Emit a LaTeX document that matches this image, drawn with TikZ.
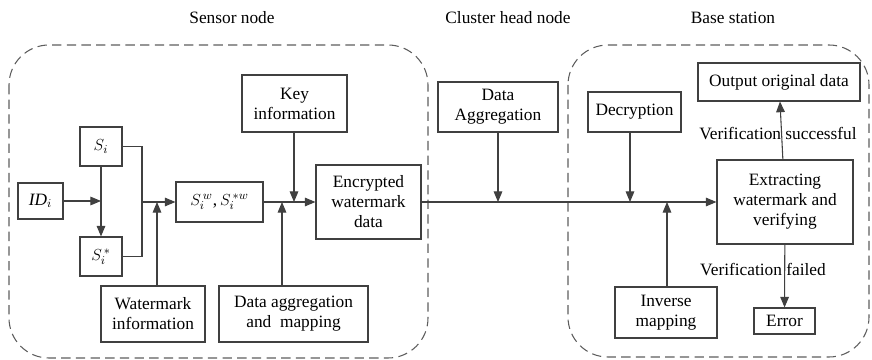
\documentclass[tikz,border=0pt]{standalone}
\usepackage{fontspec}
\setmainfont{Liberation Serif}
\usepackage{tikz}
\usetikzlibrary{arrows.meta,positioning,calc}
\tikzset{>={Triangle[length=8pt,width=6.5pt]}}
\definecolor{linegray}{HTML}{404040}

\begin{document}
\begin{tikzpicture}[x=0.75pt,y=-0.75pt,line width=0.8pt,
  box/.style 2 args={draw=linegray,align=center,inner sep=0pt,
    minimum width=#1*0.75pt,minimum height=#2*0.75pt,
    font=\fontsize{13}{15}\selectfont},
  region/.style={draw=linegray!85,dash pattern=on 7pt off 4pt,rounded corners=30pt},
  title/.style={font=\fontsize{13}{15}\selectfont}]

\useasboundingbox (0,0) rectangle (872,360);

% regions
\draw [region] (9,45) rectangle (428,358);
\draw [region] (568,45) rectangle (869,357);
\node [title] (tsensor) at (232,18) {Sensor node};
\node [title] (tcluster) at (508,18) {Cluster head node};
\node [title] (tbase) at (733,18) {Base station};

% sensor node
\node [box={45}{36}] (id) at (40.5,201) {\textit{ID}$_i$};
\node [box={42}{39}] (si) at (101,146.5) {$S_i$};
\node [box={42}{39}] (sis) at (101,256.5) {$S_i^{\,*}$};
\node [box={87}{40}] (siw) at (219.5,202) {$S_i^{\,w}$,\,$S_i^{\,*w}$};
\node [box={104}{56}] (wm) at (153,314) {Watermark\\information};
\node [box={149}{56}] (dam) at (293.5,314) {Data aggregation\\and\ \ mapping};
\node [box={105}{57}] (key) at (294.5,103.5) {Key\\information};
\node [box={105}{74}] (enc) at (368.5,202) {Encrypted\\watermark\\data};

% cluster head
\node [box={120}{50}] (dag) at (498,107) {Data\\Aggregation};

% base station
\node [box={93}{40}] (dec) at (634.5,112) {Decryption};
\node [box={162}{38}] (out) at (779,82) {Output original data};
\node [box={136}{84}] (ext) at (785,202) {Extracting\\watermark and\\verifying};
\node [box={102}{51}] (inv) at (666,312.5) {Inverse\\mapping};
\node [box={61}{26}] (err) at (784.5,321) {Error};
\node [title] (lsucc) at (778,134) {Verification successful};
\node [title] (lfail) at (763,270) {Verification failed};

% junctions on the lines
\coordinate (j1) at (101,201);
\coordinate (m1) at (142,202);
\coordinate (m2) at (157,202);
\coordinate (k1) at (294,202);
\coordinate (k2) at (282,202);
\coordinate (c1) at (498,202);
\coordinate (b1) at (630,202);
\coordinate (b2) at (667,202);

\begin{scope}[draw=linegray,color=linegray]
\draw[->] (id) to (j1);
\draw[->] (si) to (sis);
\draw (si.east) -| (m1) |- (sis.east);
\draw[->] (m1) to (siw.west);
\draw[->] (wm.north -| m2) to (m2);
\draw[->] (siw.east) to (enc.west);
\draw[->] (key.south -| k1) to (k1);
\draw[->] (dam.north -| k2) to (k2);
\draw[->] (enc.east) to (ext.west);
\draw[->] (dag.south -| c1) to (c1);
\draw[->] (dec.south -| b1) to (b1);
\draw[->] (inv.north -| b2) to (b2);
\draw[->] (ext) to (out);
\draw[->] (ext) to (err);
\end{scope}

\end{tikzpicture}
\end{document}
